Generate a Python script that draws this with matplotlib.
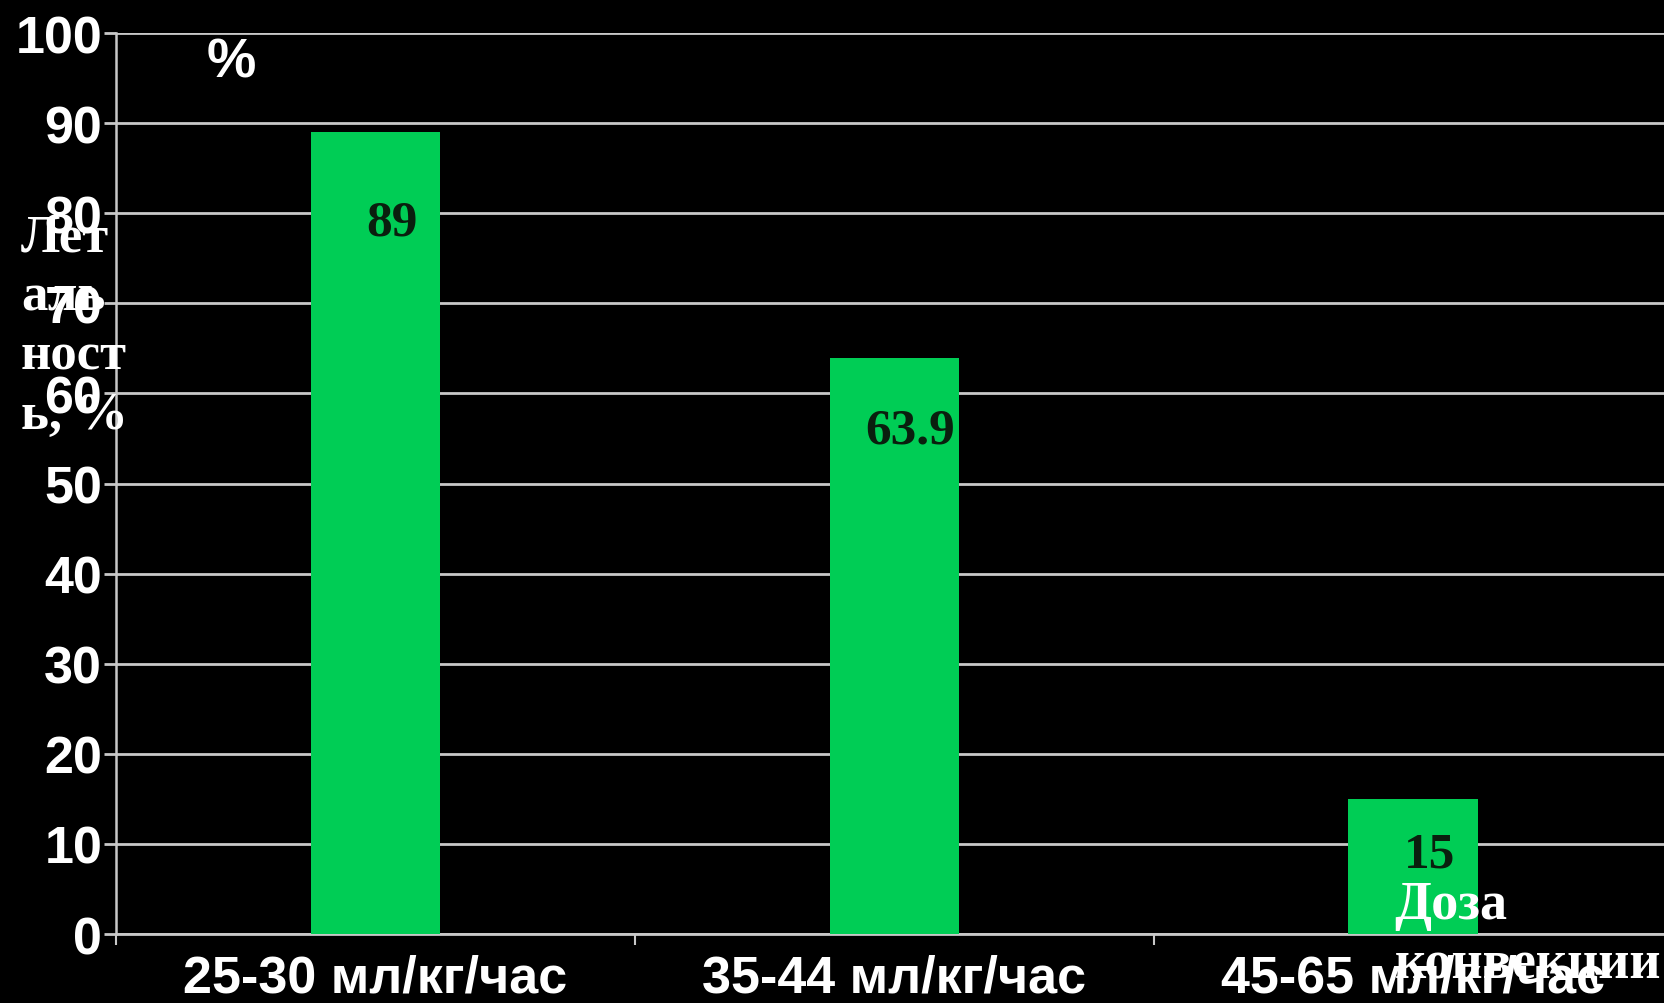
import matplotlib
matplotlib.use("Agg")
import matplotlib.pyplot as plt

# Летальность в зависимости от дозы конвекции
doses = ["25-30 мл/кг/час", "35-44 мл/кг/час", "45-65 мл/кг/час"]
mortality = [89, 63.9, 15]
value_labels = ["89", "63.9", "15"]

bar_color = "#00cd55"
grid_color = "#c8c8c8"
sans = "Liberation Sans"
serif = "Liberation Serif"

fig = plt.figure(figsize=(16.65, 10.04), dpi=100, facecolor="black")
ax = fig.add_axes([0.0697, 0.0687, 0.935, 0.8973])
ax.set_facecolor("black")

x = range(len(doses))
bars = ax.bar(x, mortality, width=0.25, color=bar_color, zorder=3)

ax.set_xlim(-0.5, 2.5)
ax.set_ylim(0, 100)
ax.set_yticks(range(0, 101, 10))
ax.grid(axis="y", color=grid_color, linewidth=2, zorder=1)
ax.set_axisbelow(True)

# подписи категорий по центру, засечки между категориями
ax.set_xticks(list(x))
ax.set_xticklabels(doses, fontfamily=sans, fontweight="bold", fontsize=37.5, color="white")
ax.set_xticks([-0.5, 0.5, 1.5], minor=True)
ax.tick_params(axis="x", which="major", length=0, pad=14)
ax.tick_params(axis="x", which="minor", length=8, width=1.5, color=grid_color, direction="out")
ax.tick_params(axis="y", length=9, width=2, color=grid_color, pad=1)
for lbl in ax.get_yticklabels():
    lbl.set_fontfamily(sans)
    lbl.set_fontweight("bold")
    lbl.set_fontsize(37.5)
    lbl.set_color("white")

for side in ["top", "right"]:
    ax.spines[side].set_visible(False)
ax.spines["left"].set_color(grid_color)
ax.spines["left"].set_linewidth(1.8)
ax.spines["bottom"].set_color(grid_color)
ax.spines["bottom"].set_linewidth(2)

# значения внутри столбцов
label_dy = [-90, -72, -56]
for rect, val, txt, dy in zip(bars, mortality, value_labels, label_dy):
    ax.annotate(txt, (rect.get_x() + rect.get_width() / 2, val),
                xytext=(16, dy), textcoords="offset pixels",
                ha="center", va="center", fontfamily=serif, fontweight="bold",
                fontsize=37, color="#0a1f0e", zorder=4)

fig.text(0.139, 0.937, "%", fontfamily=sans, fontweight="bold", fontsize=40,
         color="white", ha="center", va="center")
fig.text(0.0126, 0.674, "Лет\nаль\nност\nь, %", fontfamily=serif, fontweight="bold",
         fontsize=38, color="white", ha="left", va="center", linespacing=1.3)
fig.text(0.8375, 0.068, "Доза\nконвекции", fontfamily=serif, fontweight="bold",
         fontsize=39, color="white", ha="left", va="center", linespacing=1.25)

fig.savefig("out.png", dpi=100, facecolor="black")
